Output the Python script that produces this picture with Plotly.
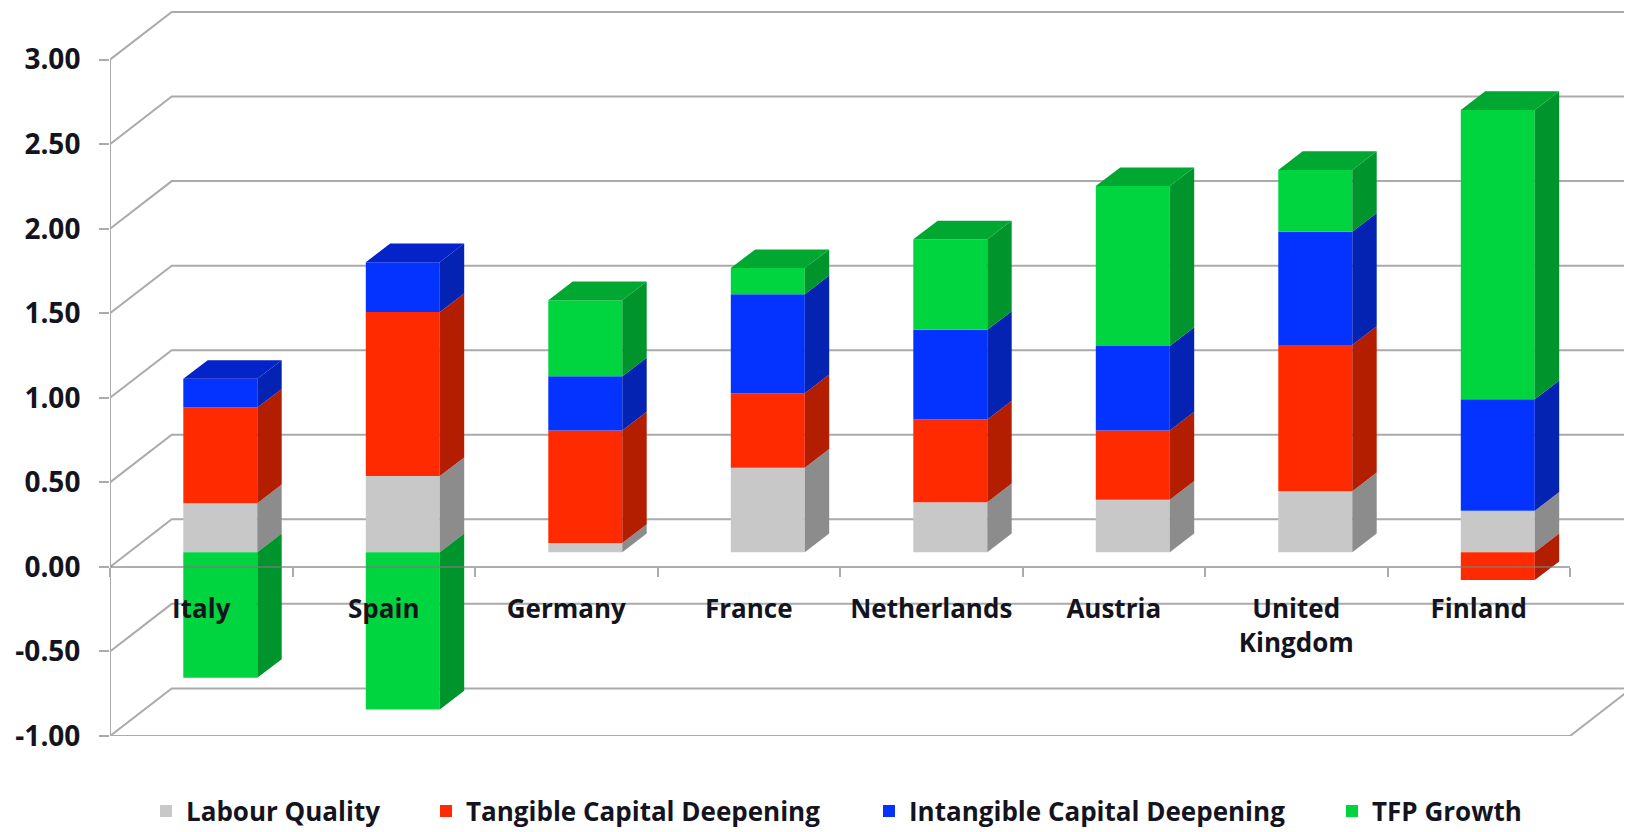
import plotly.graph_objects as go

categories = ["Italy", "Spain", "Germany", "France", "Netherlands", "Austria", "United<br>Kingdom", "Finland"]
labour = [0.29, 0.45, 0.055, 0.50, 0.295, 0.31, 0.36, 0.245]
tangible = [0.565, 0.97, 0.665, 0.44, 0.49, 0.41, 0.865, -0.165]
intangible = [0.17, 0.295, 0.32, 0.585, 0.53, 0.50, 0.67, 0.66]
tfp = [-0.743, -0.93, 0.45, 0.155, 0.535, 0.945, 0.365, 1.71]
y_ticks = [-1, -0.5, 0, 0.5, 1, 1.5, 2, 2.5, 3]
y_labels = ["-1.00", "-0.50", "0.00", "0.50", "1.00", "1.50", "2.00", "2.50", "3.00"]

names = ["Labour Quality", "Tangible Capital Deepening", "Intangible Capital Deepening", "TFP Growth"]
series = [labour, tangible, intangible, tfp]
front = ["#C8C8C8", "#FF2A00", "#0433FF", "#00D43F"]
side = ["#8C8C8C", "#B31D00", "#0423B3", "#00942C"]
top = ["#A8A8A8", "#D02400", "#0423C8", "#00A832"]

W, H = 1624, 824
ML, MB = 102, 96
PX_X, PX_Y = 182.5, 169.1
X_MAX = (W - ML) / PX_X
Y_MIN, Y_MAX = -1.0, (H - MB) / PX_Y - 1.0

WALL_DX, WALL_DY = 61.7 / PX_X, 47.6 / PX_Y
BAR_SHIFT_X, BAR_SHIFT_Y = 19.05 / PX_X, 14.7 / PX_Y
DEPTH_X, DEPTH_Y = 24.4 / PX_X, 18.7 / PX_Y
BAR_W = 74 / PX_X
GRID = "#ABABAB"
TEXT = "#14141E"
FONT = "Open Sans"
centers = [i + 0.5 for i in range(len(categories))]

fig = go.Figure()

# walls
wx, wy = [], []
for v in y_ticks:
    wx += [0, WALL_DX, X_MAX, None]
    wy += [v, v + WALL_DY, v + WALL_DY, None]
wx += [8, 8 + WALL_DX, None]
wy += [-1, -1 + WALL_DY, None]
fig.add_trace(go.Scatter(x=wx, y=wy, mode="lines", line=dict(color=GRID, width=2),
                         showlegend=False, hoverinfo="skip", xaxis="x", yaxis="y"))

# stacks
pos = [0.0] * 8
neg = [0.0] * 8
sides = [([], []) for _ in series]
tops = [([], []) for _ in series]
top_val = [0.0] * 8
top_idx = [0] * 8
for s, vals in enumerate(series):
    for i, v in enumerate(vals):
        if v >= 0:
            y0 = pos[i]; y1 = y0 + v; pos[i] = y1
            top_val[i] = y1; top_idx[i] = s
        else:
            y0 = neg[i]; y1 = y0 + v; neg[i] = y1
        r = centers[i] + BAR_W / 2
        sides[s][0].extend([r, r, r + DEPTH_X, r + DEPTH_X, r, None])
        sides[s][1].extend([y0, y1, y1 + DEPTH_Y, y0 + DEPTH_Y, y0, None])
for i, c in enumerate(centers):
    l, r, t = c - BAR_W / 2, c + BAR_W / 2, top_val[i]
    tops[top_idx[i]][0].extend([l, r, r + DEPTH_X, l + DEPTH_X, l, None])
    tops[top_idx[i]][1].extend([t, t, t + DEPTH_Y, t + DEPTH_Y, t, None])

for s in range(4):
    fig.add_trace(go.Scatter(x=sides[s][0], y=sides[s][1], mode="lines", fill="toself",
                             fillcolor=side[s], line=dict(width=0), showlegend=False,
                             hoverinfo="skip", xaxis="x2", yaxis="y2"))
    if tops[s][0]:
        fig.add_trace(go.Scatter(x=tops[s][0], y=tops[s][1], mode="lines", fill="toself",
                                 fillcolor=top[s], line=dict(width=0), showlegend=False,
                                 hoverinfo="skip", xaxis="x2", yaxis="y2"))

legend_ids = ["legend", "legend2", "legend3", "legend4"]
for s, vals in enumerate(series):
    fig.add_trace(go.Bar(x=centers, y=vals, name=names[s], width=BAR_W,
                         marker=dict(color=front[s], line=dict(width=0)),
                         xaxis="x2", yaxis="y2", legend=legend_ids[s]))

legend_x_px = [138, 418, 861, 1324]
legends = {}
plot_h = H - MB
for lid, px in zip(legend_ids, legend_x_px):
    legends[lid] = dict(x=(px - ML) / (W - ML), y=-(803 - plot_h) / plot_h, xanchor="left",
                        yanchor="middle", bgcolor="rgba(0,0,0,0)",
                        font=dict(family=FONT, size=26, color=TEXT, weight=700))

axis_line = "rgba(125,125,125,0.62)"
fig.update_layout(
    width=W, height=H, margin=dict(l=ML, r=0, t=0, b=MB, autoexpand=False),
    paper_bgcolor="white", plot_bgcolor="white",
    barmode="relative", **legends,
    xaxis=dict(range=[0, X_MAX], anchor="free", position=(0 - Y_MIN) / (Y_MAX - Y_MIN),
               tickmode="array", tickvals=centers, ticktext=categories, ticks="", showgrid=False,
               showline=False, zeroline=False, ticklabelstandoff=24,
               tickfont=dict(family=FONT, size=26, color=TEXT, weight=700),
               minor=dict(tickmode="array", tickvals=list(range(9)), ticks="outside", ticklen=9,
                          tickwidth=2, tickcolor=GRID, showgrid=False)),
    yaxis=dict(range=[Y_MIN, Y_MAX], tickmode="array", tickvals=y_ticks, ticktext=y_labels,
               ticks="outside", ticklen=10, tickwidth=2, tickcolor=GRID, showgrid=False,
               showline=False, zeroline=False, ticklabelstandoff=13,
               tickfont=dict(family=FONT, size=28, color=TEXT, weight=700)),
    xaxis2=dict(range=[-BAR_SHIFT_X, X_MAX - BAR_SHIFT_X], overlaying="x", visible=False),
    yaxis2=dict(range=[Y_MIN - BAR_SHIFT_Y, Y_MAX - BAR_SHIFT_Y], overlaying="y", visible=False),
    shapes=[
        dict(type="line", xref="x", yref="y", x0=0, x1=8, y0=0, y1=0, layer="above",
             line=dict(color=axis_line, width=2)),
        dict(type="line", xref="x", yref="y", x0=0, x1=8, y0=-1, y1=-1, layer="above",
             line=dict(color=GRID, width=2)),
        dict(type="line", xref="x", yref="y", x0=0, x1=0, y0=-1, y1=3, layer="above",
             line=dict(color=GRID, width=2)),
    ],
)

fig.write_html("out.html")
